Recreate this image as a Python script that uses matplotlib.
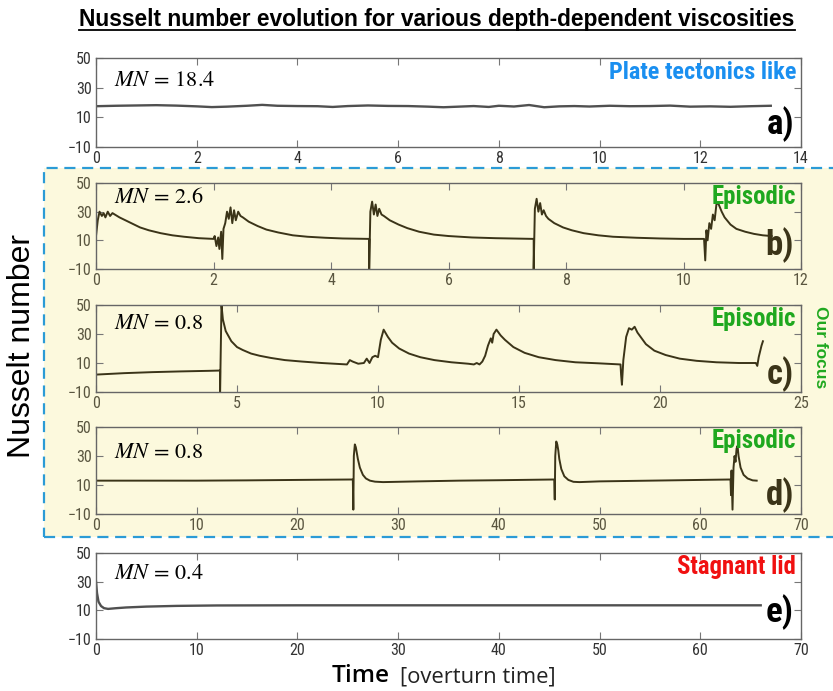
import matplotlib
matplotlib.use("Agg")
import matplotlib.pyplot as plt
from matplotlib.lines import Line2D
from matplotlib.patches import Rectangle

plt.rcParams["mathtext.fontset"] = "stix"

# ---- data ----
a_time = [0, 0.4, 0.8, 1.2, 1.6, 2.0, 2.3, 2.6, 3.0, 3.3, 3.6, 4.0, 4.4, 4.7, 5.0, 5.4, 5.8, 6.2, 6.6, 6.9,
          7.2, 7.5, 7.8, 8.0, 8.3, 8.6, 8.9, 9.2, 9.5, 9.8, 10.2, 10.6, 11.0, 11.4, 11.8, 12.2, 12.6, 13.0, 13.4]
a_nu = [17.5, 17.8, 18.0, 18.2, 17.9, 17.4, 16.9, 17.2, 17.8, 18.4, 17.8, 17.6, 17.5, 17.0, 17.6, 18.0, 17.7, 17.6, 17.2, 16.8,
        17.2, 17.6, 17.0, 17.8, 17.3, 18.3, 16.8, 17.4, 17.6, 17.3, 17.8, 17.5, 17.6, 17.9, 17.2, 17.4, 17.1, 17.5, 17.8]

b_time = [0.0, 0.03, 0.06, 0.1, 0.13, 0.16, 0.2, 0.24, 0.28, 0.32, 0.4, 0.5, 0.6, 0.75, 0.9, 1.1, 1.3, 1.5, 1.75, 2.0,
          2.02, 2.05, 2.08, 2.1, 2.13, 2.15, 2.17, 2.2, 2.23, 2.26, 2.29, 2.32, 2.35, 2.38, 2.42, 2.46, 2.5, 2.6, 2.75, 2.9,
          3.1, 3.35, 3.6, 3.9, 4.2, 4.65,
          4.65, 4.67, 4.7, 4.73, 4.76, 4.79, 4.82, 4.86, 4.9, 5.0, 5.15, 5.3, 5.5, 5.75, 6.0, 6.4, 6.8, 7.45,
          7.45, 7.47, 7.5, 7.53, 7.56, 7.59, 7.62, 7.66, 7.7, 7.8, 7.95, 8.1, 8.3, 8.55, 8.8, 9.2, 9.6, 10.0, 10.35,
          10.37, 10.39, 10.41, 10.44, 10.47, 10.5, 10.53, 10.56, 10.59, 10.62, 10.65, 10.7, 10.8, 10.9, 11.05, 11.2, 11.35, 11.5]
b_nu = [13, 24, 30, 27, 29, 26, 30, 27, 29, 28, 26, 24, 22, 19, 17, 15, 13.5, 12.5, 11.5, 11,
        13, 6, 12, 4, 16, -3, 18, 22, 30, 25, 33, 22, 31, 24, 30, 27, 26, 23, 20, 17.5,
        15.5, 13.5, 12.5, 11.8, 11.3, 11,
        -10, 30, 37, 28, 35, 27, 32, 28, 27, 24, 21, 18.5, 16, 14, 13, 12, 11.5, 11,
        -10, 32, 39, 30, 36, 28, 31, 27, 25, 22, 19, 17, 15, 13.5, 12.5, 11.8, 11.3, 11, 11,
        -4, 17, 10, 22, 18, 28, 24, 35, 36, 33, 30, 26, 21, 18, 16, 14.5, 13.5, 13]

c_time = [0, 1, 2, 3, 4, 4.4, 4.4, 4.45, 4.5, 4.6, 4.8, 5.0, 5.2, 5.5, 5.8, 6.2, 6.7, 7.3, 8.0, 8.9,
          9.0, 9.1, 9.3, 9.5, 9.6, 9.7, 9.8, 9.9, 10.0, 10.1, 10.2, 10.35, 10.5, 10.75, 11.1, 11.5, 12.0, 12.6, 13.2,
          13.4, 13.5, 13.6, 13.7, 13.8, 13.9, 14.0, 14.05, 14.1, 14.2, 14.35, 14.5, 14.8, 15.2, 15.7, 16.3, 17.0, 17.8, 18.6,
          18.62, 18.65, 18.7, 18.75, 18.8, 18.9, 19.0, 19.1, 19.2, 19.35, 19.5, 19.8, 20.2, 20.7, 21.3, 22.0, 22.8, 23.4,
          23.45, 23.5, 23.55, 23.6, 23.65]
c_nu = [2, 3, 3.7, 4.2, 4.6, 4.8, -10, 50, 40, 32, 25, 21, 19, 16.5, 15, 13.5, 12, 11, 10, 9,
        12, 11, 9.5, 10, 13, 10, 14, 15, 14, 26, 33, 28, 24, 20, 16.5, 14, 12, 10.5, 9.5,
        9, 10, 9, 11, 15, 22, 27, 24, 30, 33, 29, 26, 21, 17, 14, 12, 10.5, 9.8, 9,
        2, -5, 12, 20, 28, 34, 33, 35, 31, 27, 23, 18.5, 15.5, 13, 11.5, 10.5, 10, 10,
        8, 14, 18, 22, 25]

d_time = [0, 5, 10, 15, 20, 25.5, 25.55, 25.6, 25.7, 25.8, 25.9, 26.0, 26.2, 26.5, 26.8, 27.2, 27.7, 28.5, 32, 36, 40, 45.5,
          45.55, 45.6, 45.7, 45.8, 45.9, 46.0, 46.2, 46.5, 46.9, 47.4, 48.0, 50, 55, 60, 63.0,
          63.05, 63.1, 63.2, 63.3, 63.4, 63.5, 63.6, 63.7, 63.8, 64.0, 64.3, 64.7, 65.2, 65.6]
d_nu = [13, 13, 13, 13.2, 13.5, 13.8, -7, 30, 38, 36, 32, 28, 22, 17, 14.5, 13, 12.3, 12, 12.5, 13, 13.3, 13.8,
        0, 30, 40, 38, 34, 28, 21, 16, 13.5, 12.2, 12, 12.5, 13, 13.5, 13.8,
        3, 20, -7, 22, 30, 26, 35, 37, 30, 22, 17, 14.5, 13.2, 13]

e_time = [0, 0.1, 0.25, 0.5, 0.8, 1.2, 2, 3, 5, 8, 12, 20, 30, 40, 50, 60, 66]
e_nu = [30, 22, 16, 13, 11.5, 11, 11.5, 12, 12.6, 13.1, 13.4, 13.5, 13.5, 13.5, 13.5, 13.5, 13.5]

xmax = [14, 12, 25, 70, 70]
mn_values = ["18.4", "2.6", "0.8", "0.8", "0.4"]
regimes = ["Plate tectonics like", "Episodic", "Episodic", "Episodic", "Stagnant lid"]
regime_colors = ["#1a8ff0", "#1fa81f", "#1fa81f", "#1fa81f", "#f01010"]
letters = ["a)", "b)", "c)", "d)", "e)"]
yticks = [-10, 10, 30, 50]

W, H = 833, 691
NARROW = ["Roboto Condensed", "Liberation Sans Narrow", "Liberation Sans", "DejaVu Sans"]
ARIAL = ["Liberation Sans", "DejaVu Sans"]
YELLOW = "#fcf9dd"
OLIVE = "#3b3418"

fig = plt.figure(figsize=(W / 100, H / 100), dpi=100)
renderer = fig.canvas.get_renderer()


def px_axes(top, bottom, left=96, right=801):
    return fig.add_axes([left / W, 1 - bottom / H, (right - left) / W, (bottom - top) / H])


def fit_width(txt, target_px, vertical=False):
    # scale the font size so the text spans about target_px
    ext = txt.get_window_extent(renderer=renderer)
    w = ext.height if vertical else ext.width
    txt.set_fontsize(txt.get_fontsize() * target_px / w)


# yellow "our focus" box behind panels b-d
fig.add_artist(Rectangle((44 / W, 1 - 537 / H), (W + 20 - 44) / W, (537 - 168) / H,
                         transform=fig.transFigure, facecolor=YELLOW, edgecolor="#2b9bd6",
                         linestyle=(0, (5, 3)), linewidth=1.6, zorder=0))

panel_px = [(58, 147), (183, 269), (305, 392), (427, 514), (553, 639)]
series = [(a_time, a_nu), (b_time, b_nu), (c_time, c_nu), (d_time, d_nu), (e_time, e_nu)]
mn_y = [0.75, 0.84, 0.79, 0.71, 0.77]
letter_y = [0.26, 0.28, 0.20, 0.22, 0.31]
regime_px = [189, 85, 85, 85, 120]

for i, ((top, bottom), (t, nu)) in enumerate(zip(panel_px, series)):
    ax = px_axes(top, bottom)
    focus = i in (1, 2, 3)
    line_col = OLIVE if focus else "#505050"
    tick_col = "#5a5640" if focus else "#333333"
    ax.set_facecolor(YELLOW if focus else "white")
    ax.plot(t, nu, color=line_col, lw=1.4 if focus else 1.7)
    ax.set_xlim(0, xmax[i])
    ax.set_ylim(-10, 50)
    ax.set_yticks(yticks)
    ax.tick_params(direction="in", top=True, right=True, length=5, width=0.8,
                   colors="#777777", labelcolor=tick_col, labelsize=11.5, pad=3)
    for lab in ax.get_xticklabels() + ax.get_yticklabels():
        lab.set_family(NARROW)
    for sp in ax.spines.values():
        sp.set_color("#666666")
        sp.set_linewidth(1.0)

    ax.text(0.025, mn_y[i], rf"$MN\,=\,{mn_values[i]}$", transform=ax.transAxes,
            fontsize=16, color="black", ha="left", va="center")
    rt = ax.text(0.993, 0.84, regimes[i], transform=ax.transAxes, ha="right", va="center",
                 fontsize=14, fontweight="bold", color=regime_colors[i], family=NARROW)
    fit_width(rt, regime_px[i])
    ax.text(0.99, letter_y[i], letters[i], transform=ax.transAxes, ha="right", va="center",
            fontsize=25, fontweight="bold", color=OLIVE if focus else "black", family=NARROW)

# titles and axis labels
title = fig.text(437 / W, 1 - 26 / H, "Nusselt number evolution for various depth-dependent viscosities",
                 ha="center", va="baseline", fontsize=15, fontweight="bold", family=ARIAL)
fit_width(title, 722)
fig.text(22 / W, 1 - 346 / H, "Nusselt number", rotation=90, ha="center", va="center",
         fontsize=23, family=ARIAL)
fig.text(821 / W, 1 - 347 / H, "Our focus", rotation=270, ha="center", va="center",
         fontsize=12.5, fontweight="heavy", color="#1fa81f", family=ARIAL)
tm = fig.text(390 / W, 1 - 682 / H, "Time", ha="right", va="baseline", fontsize=19,
              family=["Open Sans", "DejaVu Sans"], fontweight="semibold")
fit_width(tm, 58)
ov = fig.text(400 / W, 1 - 682 / H, "[overturn time]", ha="left", va="baseline", fontsize=15,
              family=["Open Sans", "DejaVu Sans"], color="#222222")
fit_width(ov, 155)

# underline the title
fig.canvas.draw()
bb = title.get_window_extent().transformed(fig.transFigure.inverted())
y_ul = 1 - 30 / H
fig.add_artist(Line2D([bb.x0, bb.x1], [y_ul, y_ul], transform=fig.transFigure,
                      color="black", lw=1.3))

fig.savefig("out.png", dpi=100)
